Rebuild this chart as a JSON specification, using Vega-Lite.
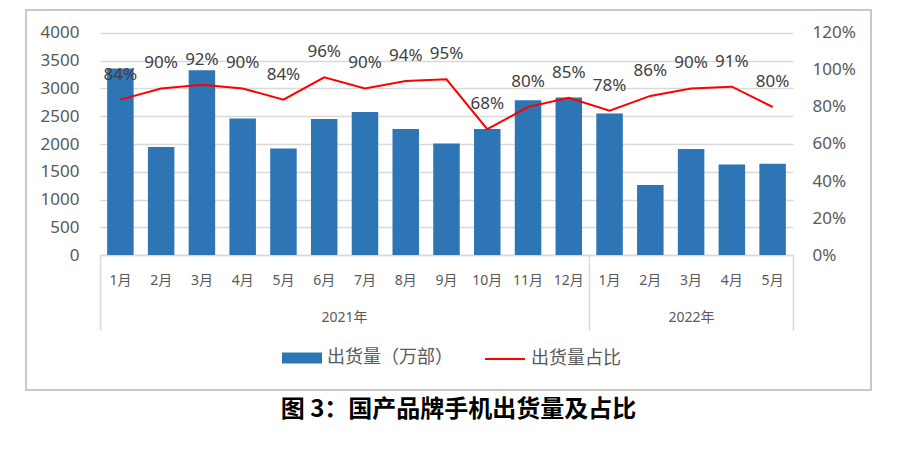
{
  "$schema": "https://vega.github.io/schema/vega-lite/v6.json",
  "width": 845,
  "height": 380,
  "autosize": {"type": "none"},
  "padding": {"left": 26, "top": 10, "right": 29, "bottom": 61},
  "background": "white",
  "config": {
    "view": {"stroke": "#c8c8c8", "strokeWidth": 2},
    "font": "Noto Sans, Noto Sans CJK SC",
    "axis": {"labelFont": "Noto Sans, Noto Sans CJK SC", "labelColor": "#595959"}
  },
  "title": {
    "text": "图 3：国产品牌手机出货量及占比",
    "orient": "bottom",
    "anchor": "middle",
    "font": "Noto Sans CJK SC",
    "fontSize": 24,
    "fontWeight": "bold",
    "color": "#000000",
    "offset": 8,
    "dx": 10
  },
  "data": {
    "values": [
      {"m": "2021-01", "v": 3360, "p": 0.84},
      {"m": "2021-02", "v": 1945, "p": 0.90},
      {"m": "2021-03", "v": 3330, "p": 0.92},
      {"m": "2021-04", "v": 2460, "p": 0.90},
      {"m": "2021-05", "v": 1920, "p": 0.84},
      {"m": "2021-06", "v": 2450, "p": 0.96},
      {"m": "2021-07", "v": 2575, "p": 0.90},
      {"m": "2021-08", "v": 2270, "p": 0.94},
      {"m": "2021-09", "v": 2010, "p": 0.95},
      {"m": "2021-10", "v": 2270, "p": 0.68},
      {"m": "2021-11", "v": 2790, "p": 0.80},
      {"m": "2021-12", "v": 2840, "p": 0.85},
      {"m": "2022-01", "v": 2550, "p": 0.78},
      {"m": "2022-02", "v": 1260, "p": 0.86},
      {"m": "2022-03", "v": 1910, "p": 0.90},
      {"m": "2022-04", "v": 1630, "p": 0.91},
      {"m": "2022-05", "v": 1645, "p": 0.80}
    ]
  },
  "layer": [
    {
      "mark": {"type": "bar"},
      "encoding": {
        "x": {
          "field": "m", "type": "ordinal", "sort": null,
          "scale": {"type": "band", "range": [74, 767], "paddingInner": 0.35, "paddingOuter": 0.175},
          "axis": {
            "title": null, "orient": "bottom", "offset": -135,
            "labelExpr": "toNumber(slice(datum.value, 5)) + '月'",
            "labelAngle": 0, "labelFontSize": 14, "labelPadding": 18,
            "domainColor": "#d9d9d9", "domainWidth": 1.5, "ticks": false
          }
        },
        "y": {
          "field": "v", "type": "quantitative",
          "scale": {"domain": [-2432.4, 4414.4], "nice": false, "zero": false},
          "axis": {
            "title": null, "orient": "left", "offset": -74, "format": "d",
            "values": [0, 500, 1000, 1500, 2000, 2500, 3000, 3500, 4000],
            "domain": false, "ticks": false, "labelPadding": 21, "labelFontSize": 17,
            "grid": true, "gridColor": "#d9d9d9", "gridWidth": 1.5
          }
        },
        "y2": {"datum": 0},
        "fill": {
          "datum": "出货量（万部）", "type": "nominal",
          "scale": {"range": ["#2e75b6"]},
          "legend": {
            "title": null, "orient": "none", "direction": "horizontal",
            "legendX": 256, "legendY": 328,
            "symbolType": "M-1,-0.275L1,-0.275L1,0.275L-1,0.275Z",
            "symbolSize": 1600, "symbolStrokeWidth": 0, "symbolOpacity": 1,
            "labelFontSize": 18, "labelColor": "#595959",
            "labelFont": "Noto Sans CJK SC", "labelOffset": 5
          }
        }
      }
    },
    {
      "mark": {"type": "line", "strokeWidth": 2},
      "encoding": {
        "x": {
          "field": "m", "type": "ordinal", "sort": null,
          "scale": {"type": "band", "range": [74, 767], "paddingInner": 0, "paddingOuter": 0},
          "axis": {
            "title": null, "orient": "bottom", "offset": -135,
            "labelExpr": "datum.value == '2022-03' ? '2022年' : ''",
            "labelAngle": 0, "labelFontSize": 14, "labelPadding": -20,
            "domain": false,
            "ticks": true, "tickBand": "extent", "tickSize": 75,
            "tickColor": "#d9d9d9", "tickWidth": 1.5,
            "tickOpacity": {"condition": {"test": "datum.value == '2021-12' || datum.value == '2022-05' || datum.extra", "value": 1}, "value": 0}
          }
        },
        "y": {
          "field": "p", "type": "quantitative",
          "scale": {"domain": [-0.7297, 1.3243], "nice": false, "zero": false},
          "axis": {
            "title": null, "orient": "right", "offset": -78,
            "values": [0, 0.2, 0.4, 0.6, 0.8, 1.0, 1.2], "format": ".0%",
            "domain": false, "ticks": false, "grid": false,
            "labelPadding": 19, "labelFontSize": 17
          }
        },
        "stroke": {
          "datum": "出货量占比", "type": "nominal",
          "scale": {"range": ["#ff0000"]},
          "legend": {
            "title": null, "orient": "none", "direction": "horizontal",
            "legendX": 458, "legendY": 328,
            "symbolType": "stroke", "symbolSize": 1600, "symbolStrokeWidth": 2,
            "labelFontSize": 18, "labelColor": "#595959",
            "labelFont": "Noto Sans CJK SC", "labelOffset": 5
          }
        }
      }
    },
    {
      "mark": {"type": "text", "dy": -25, "fontSize": 17, "color": "#404040", "baseline": "middle"},
      "encoding": {
        "x": {
          "field": "m", "type": "ordinal", "sort": null,
          "scale": {"type": "band", "range": [74, 767], "paddingInner": 0, "paddingOuter": 0},
          "axis": {
            "title": null, "orient": "bottom", "offset": -135,
            "values": ["2021-07"],
            "labelExpr": "slice(datum.value, 0, 4) + '年'",
            "labelAngle": 0, "labelFontSize": 14, "labelPadding": 55, "labelOffset": -20.38,
            "domain": false, "ticks": false
          }
        },
        "y": {
          "field": "p", "type": "quantitative",
          "scale": {"domain": [-0.7297, 1.3243], "nice": false, "zero": false},
          "axis": null
        },
        "text": {"field": "p", "type": "quantitative", "format": ".0%"}
      }
    }
  ],
  "resolve": {"scale": {"x": "independent", "y": "independent"}}
}
